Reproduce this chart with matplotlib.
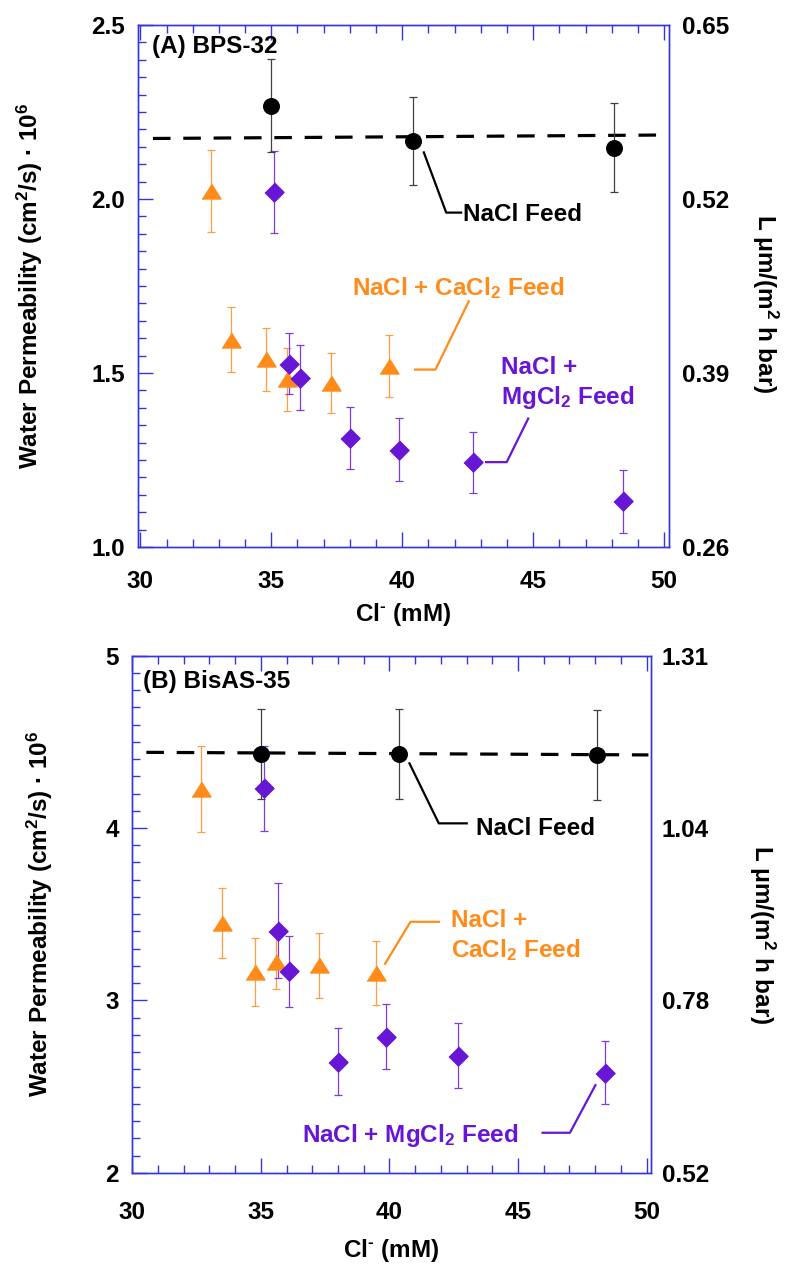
import matplotlib
matplotlib.use("Agg")
import matplotlib.pyplot as plt
from matplotlib.ticker import MultipleLocator, FixedLocator

plt.rcParams["font.family"] = ["Liberation Sans", "DejaVu Sans"]
plt.rcParams["font.weight"] = "bold"
plt.rcParams["mathtext.default"] = "regular"

# colors
frame_col = "#3535e0"
nacl_col = "black"
nacl_err_col = "#404040"
ca_col = "#ff8c1a"
ca_err_col = "#ff9d45"
mg_col = "#6616d4"
mg_err_col = "#7f3be0"

# ---- panel A: BPS-32 ----
cl_nacl_a = [35.0, 40.40, 48.10]
wp_nacl_a = [2.268, 2.167, 2.148]
err_nacl_a = [0.133, 0.126, 0.127]
fit_x_a = [30.48, 50.07]
fit_y_a = [2.174, 2.184]

cl_ca_a = [32.68, 33.47, 34.79, 35.59, 37.28, 39.50]
wp_ca_a = [2.022, 1.596, 1.539, 1.482, 1.472, 1.520]
err_ca_a = [0.118, 0.094, 0.090, 0.090, 0.087, 0.090]

cl_mg_a = [35.09, 35.68, 36.10, 37.99, 39.89, 42.69, 48.42]
wp_mg_a = [2.019, 1.527, 1.487, 1.313, 1.280, 1.243, 1.131]
err_mg_a = [0.118, 0.088, 0.094, 0.090, 0.090, 0.087, 0.091]

yticks_a = [1.0, 1.5, 2.0, 2.5]
yticklabels_a = ["1.0", "1.5", "2.0", "2.5"]
right_labels_a = ["0.26", "0.39", "0.52", "0.65"]

# ---- panel B: BisAS-35 ----
cl_nacl_b = [35.01, 40.39, 48.06]
wp_nacl_b = [4.429, 4.429, 4.424]
err_nacl_b = [0.26, 0.26, 0.26]
fit_x_b = [30.55, 50.07]
fit_y_b = [4.439, 4.424]

cl_ca_b = [32.69, 33.50, 34.76, 35.60, 37.28, 39.49]
wp_ca_b = [4.226, 3.449, 3.164, 3.225, 3.203, 3.158]
err_ca_b = [0.25, 0.205, 0.196, 0.16, 0.187, 0.186]

cl_mg_b = [35.11, 35.66, 36.09, 38.00, 39.88, 42.67, 48.40]
wp_mg_b = [4.230, 3.405, 3.168, 2.645, 2.790, 2.678, 2.581]
err_mg_b = [0.248, 0.277, 0.205, 0.196, 0.191, 0.189, 0.184]

yticks_b = [2, 3, 4, 5]
yticklabels_b = ["2", "3", "4", "5"]
right_labels_b = ["0.52", "0.78", "1.04", "1.31"]

xticks = [30, 35, 40, 45, 50]

ylabel = "Water Permeability (cm$^2$/s) \u00b7 10$^6$"
rlabel = "L \u03bcm/(m$^2$ h bar)"
xlabel = "Cl$^{\u2010}$ (mM)"
ca_feed = "CaCl$_2\\;$Feed"
mg_feed = "MgCl$_2\\;$Feed"

fs = 17.5
tri = [(-1, -0.79), (1, -0.79), (0, 0.79)]
dia = [(0, 1), (1, 0), (0, -1), (-1, 0)]


def series(ax, x, y, err, col, ecol, marker, ms):
    ax.errorbar(x, y, yerr=err, fmt="none", ecolor=ecol, elinewidth=0.9,
                capsize=3.2, capthick=0.9, zorder=2)
    ax.plot(x, y, linestyle="none", marker=marker, markersize=ms,
            markerfacecolor=col, markeredgecolor=col, zorder=3)


def leader(ax, xs, ys, col):
    ax.plot(xs, ys, color=col, linewidth=1.6, solid_capstyle="butt", zorder=2)


def setup(ax, ylim, yticks, yticklabels, ymajor, yminor, right_labels,
          xpad, rpad, xlim):
    ax.set_xlim(*xlim)
    ax.set_ylim(*ylim)
    ax.xaxis.set_major_locator(FixedLocator(xticks))
    ax.xaxis.set_minor_locator(MultipleLocator(1))
    ax.yaxis.set_major_locator(MultipleLocator(ymajor))
    ax.yaxis.set_minor_locator(MultipleLocator(yminor))
    ax.set_yticks(yticks)
    ax.set_yticklabels(yticklabels)
    ax.tick_params(which="both", direction="in", top=True, right=True,
                   color=frame_col, width=1.0, labelsize=fs)
    ax.tick_params(which="major", length=11)
    ax.tick_params(which="minor", length=6)
    ax.tick_params(axis="x", pad=xpad)
    ax.tick_params(axis="y", pad=9.4)
    for sp in ax.spines.values():
        sp.set_color(frame_col)
        sp.set_linewidth(1.0)
    ax2 = ax.twinx()
    ax2.set_ylim(*ylim)
    ax2.set_yticks(yticks)
    ax2.set_yticklabels(right_labels)
    ax2.tick_params(axis="y", length=0, labelsize=fs, pad=rpad)
    for sp in ax2.spines.values():
        sp.set_color(frame_col)
        sp.set_linewidth(1.0)
    return ax2


fig = plt.figure(figsize=(7.9, 12.64), dpi=100)

# panel A
ax = fig.add_axes([0.1747, 0.5672, 0.6722, 0.4130])
ax.plot(fit_x_a, fit_y_a, color="black", linewidth=2.3,
        linestyle=(0, (5.5, 4)), zorder=1.5)
series(ax, cl_ca_a, wp_ca_a, err_ca_a, ca_col, ca_err_col, tri, 19 / 1.389)
series(ax, cl_mg_a, wp_mg_a, err_mg_a, mg_col, mg_err_col, dia, 19 / 1.389)
series(ax, cl_nacl_a, wp_nacl_a, err_nacl_a, nacl_col, nacl_err_col, "o", 11.2)
setup(ax, (1.0, 2.5), yticks_a, yticklabels_a, 0.5, 0.05, right_labels_a,
      16.5, 9.0, (29.91, 50.19))

leader(ax, [40.81, 41.68, 42.29], [2.137, 1.961, 1.961], nacl_col)
ax.text(42.32, 1.936, "NaCl Feed", color=nacl_col, fontsize=fs, va="baseline")
leader(ax, [40.45, 41.27, 42.56], [1.510, 1.510, 1.709], ca_col)
ax.text(38.09, 1.725, "NaCl + " + ca_feed, color=ca_col, fontsize=fs,
        va="baseline")
leader(ax, [43.16, 43.99, 44.83], [1.244, 1.244, 1.372], mg_col)
ax.text(43.77, 1.497, "NaCl +", color=mg_col, fontsize=fs, va="baseline")
ax.text(43.77, 1.411, mg_feed, color=mg_col, fontsize=fs, va="baseline")

ax.text(0.026, 0.958, "(A) BPS-32", transform=ax.transAxes, fontsize=fs,
        va="center")
ax.text(-0.203, 0.5, ylabel, transform=ax.transAxes, rotation=90,
        ha="center", va="center", fontsize=fs)
ax.text(1.181, 0.466, rlabel, transform=ax.transAxes, rotation=270,
        ha="center", va="center", fontsize=fs)
ax.text(0.5, -0.130, xlabel, transform=ax.transAxes, ha="center",
        va="center", fontsize=fs)

# panel B
ax = fig.add_axes([0.1667, 0.0722, 0.6570, 0.4091])
ax.plot(fit_x_b, fit_y_b, color="black", linewidth=2.3,
        linestyle=(0, (5.5, 4)), zorder=1.5)
series(ax, cl_ca_b, wp_ca_b, err_ca_b, ca_col, ca_err_col, tri, 19 / 1.389)
series(ax, cl_mg_b, wp_mg_b, err_mg_b, mg_col, mg_err_col, dia, 19 / 1.389)
series(ax, cl_nacl_b, wp_nacl_b, err_nacl_b, nacl_col, nacl_err_col, "o", 11.2)
setup(ax, (2, 5), yticks_b, yticklabels_b, 1, 0.1, right_labels_b,
      20.5, 8.0, (29.98, 50.16))

leader(ax, [40.76, 41.92, 43.05], [4.381, 4.027, 4.027], nacl_col)
ax.text(43.35, 3.96, "NaCl Feed", color=nacl_col, fontsize=fs, va="baseline")
leader(ax, [39.81, 40.82, 41.97], [3.207, 3.456, 3.456], ca_col)
ax.text(42.39, 3.423, "NaCl +", color=ca_col, fontsize=fs, va="baseline")
ax.text(42.39, 3.249, ca_feed, color=ca_col, fontsize=fs, va="baseline")
leader(ax, [45.91, 47.02, 48.03], [2.232, 2.232, 2.514], mg_col)
ax.text(36.61, 2.178, "NaCl + " + mg_feed, color=mg_col, fontsize=fs,
        va="baseline")

ax.text(0.022, 0.950, "(B) BisAS-35", transform=ax.transAxes, fontsize=fs,
        va="center")
ax.text(-0.177, 0.5, ylabel, transform=ax.transAxes, rotation=90,
        ha="center", va="center", fontsize=fs)
ax.text(1.214, 0.46, rlabel, transform=ax.transAxes, rotation=270,
        ha="center", va="center", fontsize=fs)
ax.text(0.5, -0.150, xlabel, transform=ax.transAxes, ha="center",
        va="center", fontsize=fs)

fig.savefig("out.png", dpi=100)
